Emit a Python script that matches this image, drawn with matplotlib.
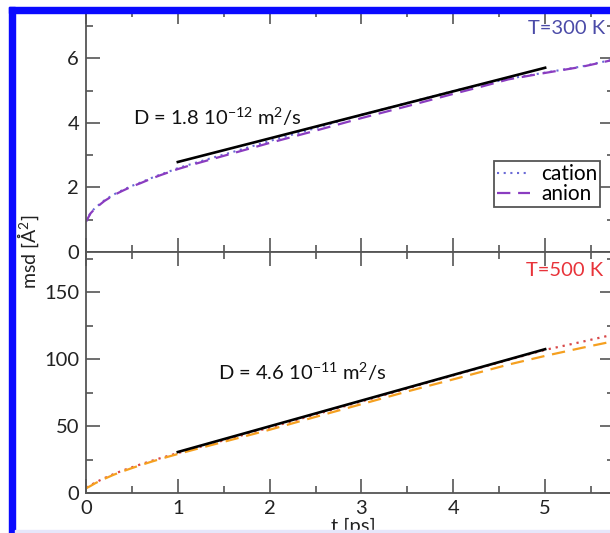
import matplotlib
matplotlib.use("Agg")
import matplotlib.pyplot as plt
from matplotlib.patches import Rectangle
from matplotlib.ticker import MultipleLocator

plt.rcParams['font.family'] = ['Lato', 'DejaVu Sans']
plt.rcParams['mathtext.fontset'] = 'custom'
plt.rcParams['mathtext.rm'] = 'Lato'
plt.rcParams['mathtext.it'] = 'Lato:italic'
plt.rcParams['mathtext.bf'] = 'Lato:bold'

# ---------------- data ----------------
t = [0, 0.05, 0.1, 0.2, 0.3, 0.4, 0.5, 0.6, 0.7, 0.8, 0.9, 1.0, 1.2, 1.4,
     1.6, 1.8, 2.0, 2.5, 3.0, 3.5, 4.0, 4.3, 4.6, 5.0, 5.4, 5.75]

cation_300 = [0.95, 1.22, 1.37, 1.60, 1.78, 1.92, 2.05, 2.16, 2.28, 2.39, 2.49,
              2.60, 2.77, 2.94, 3.10, 3.27, 3.44, 3.84, 4.25, 4.62, 4.99, 5.18,
              5.37, 5.56, 5.75, 5.97]
anion_300 = [0.94, 1.20, 1.35, 1.58, 1.76, 1.90, 2.03, 2.14, 2.26, 2.37, 2.47,
             2.57, 2.74, 2.90, 3.06, 3.22, 3.38, 3.76, 4.15, 4.52, 4.90, 5.12,
             5.35, 5.55, 5.74, 5.96]

cation_500 = [4.2, 6.0, 8.0, 11.3, 14.3, 17.0, 19.4, 21.7, 23.9, 26.0, 28.0,
              30.0, 33.8, 37.6, 41.4, 45.2, 49.0, 58.8, 68.5, 78.2, 88.0, 93.8,
              99.5, 107.0, 113.0, 118.5]
anion_500 = [3.7, 5.5, 7.5, 10.8, 13.8, 16.4, 18.8, 21.1, 23.3, 25.4, 27.4,
             29.3, 33.0, 36.6, 40.2, 43.8, 47.4, 57.0, 66.5, 76.0, 85.0, 90.5,
             96.0, 102.5, 108.5, 113.5]

fit_t = [1, 5]
fit_300 = [2.79, 5.71]
fit_500 = [30.8, 107.5]

label_300 = "T=300 K"
label_500 = "T=500 K"
text_D300 = r"D = 1.8 10$^{-12}$ m$^2$/s"
text_D500 = r"D = 4.6 10$^{-11}$ m$^2$/s"

# ---------------- figure ----------------
W, H = 610, 533
fig = plt.figure(figsize=(W / 100, H / 100), dpi=100)

def fx(px):
    return px / W

def fy(py):
    return 1 - py / H

ax_left = 86
ax_right = 614
top_top, mid, bot_bot = 10, 252, 493.3

ax1 = fig.add_axes([fx(ax_left), fy(mid), (ax_right - ax_left) / W, (mid - top_top) / H])
ax2 = fig.add_axes([fx(ax_left), fy(bot_bot), (ax_right - ax_left) / W, (bot_bot - mid) / H])

spine_c = '#555555'
for ax in (ax1, ax2):
    ax.set_xlim(0, 5.75)
    for s in ax.spines.values():
        s.set_color(spine_c)
        s.set_linewidth(1.3)
    ax.xaxis.set_major_locator(MultipleLocator(1))
    ax.xaxis.set_minor_locator(MultipleLocator(0.5))
    ax.tick_params(which='both', direction='in', top=True, right=True,
                   color=spine_c, width=1.2, labelsize=14.5, labelcolor='#222222')
    ax.tick_params(which='major', length=10, pad=5)
    ax.tick_params(which='minor', length=5)

ax1.set_ylim(0, 7.5)
ax1.yaxis.set_major_locator(MultipleLocator(2))
ax1.yaxis.set_minor_locator(MultipleLocator(1))
ax1.tick_params(labelbottom=False)

ax2.set_ylim(0, 180)
ax2.yaxis.set_major_locator(MultipleLocator(50))
ax2.yaxis.set_minor_locator(MultipleLocator(25))

# top panel
ax1.plot(t, cation_300, linestyle=(0, (1, 2.2)), color='#6a6ad6', lw=1.5, label='cation')
ax1.plot(t, anion_300, linestyle=(0, (6, 3.5)), color='#8a3cc0', lw=1.6, label='anion')
ax1.plot(fit_t, fit_300, color='black', lw=1.9)
ax1.text(0.51, 3.93, text_D300, fontsize=14.5, ha='left', va='baseline', color='#111111')

# bottom panel
ax2.plot(t, cation_500, linestyle=(0, (1, 2.2)), color='#d84848', lw=1.6)
ax2.plot(t, anion_500, linestyle=(0, (6, 3.5)), color='#f5a020', lw=1.6)
ax2.plot(fit_t, fit_500, color='black', lw=1.9)
ax2.text(1.44, 84.7, text_D500, fontsize=14.5, ha='left', va='baseline', color='#111111')

leg = ax1.legend(loc='upper left', bbox_to_anchor=(fx(494), fy(161)),
                 bbox_transform=fig.transFigure, borderaxespad=0,
                 fancybox=False, framealpha=1, edgecolor='#555555',
                 fontsize=15, handlelength=1.6, handletextpad=0.5,
                 labelspacing=0.0, borderpad=0.15)
leg.get_frame().set_linewidth(1.3)

fig.text(fx(567), fy(29), label_300, color='#4b4ba8', fontsize=14.5, ha='center', va='center')
fig.text(fx(565), fy(271), label_500, color='#e8333a', fontsize=14.5, ha='center', va='center')

fig.text(fx(28), fy(252), r"msd [Å$^2$]", rotation=90, fontsize=14,
         ha='center', va='center', color='#222222')
fig.text(fx(353), fy(518), "t [ps]", fontsize=14.5, ha='center', va='top', color='#222222')

# frame (blue border of the figure crop)
fig.add_artist(Rectangle((fx(9), 0), 6 / W, fy(7), transform=fig.transFigure,
                         color='#0a0aff', zorder=10))
fig.add_artist(Rectangle((fx(9), fy(13)), 1 - fx(9), 6 / H, transform=fig.transFigure,
                         color='#0a0aff', zorder=10))
fig.add_artist(Rectangle((fx(15), 0), 1, 3 / H, transform=fig.transFigure,
                         color='#e6e6fa', zorder=10))

fig.savefig('out.png', dpi=100)
